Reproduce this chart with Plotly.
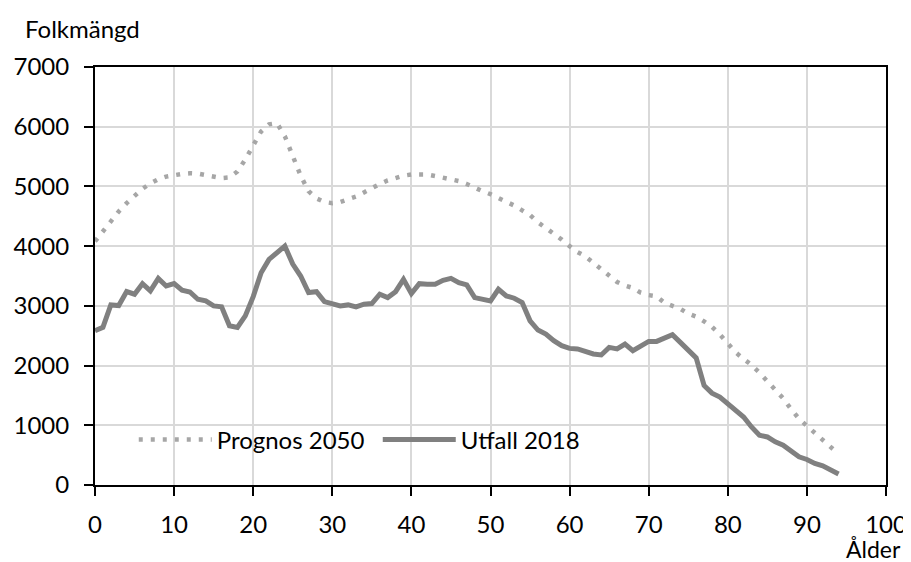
import plotly.graph_objects as go

ages = list(range(0, 95))

prognos_2050 = [
    4080, 4250, 4420, 4580, 4720, 4850, 4960, 5050, 5120, 5165,
    5190, 5210, 5220, 5215, 5190, 5160, 5140, 5150, 5250, 5450,
    5680, 5920, 6040, 6060, 5840, 5500, 5180, 4920, 4800, 4740,
    4720, 4740, 4780, 4830, 4900, 4980, 5040, 5100, 5150, 5180,
    5200, 5205, 5200, 5175, 5150, 5125, 5090, 5040, 4970, 4920,
    4870, 4810, 4750, 4680, 4600, 4520, 4400, 4310, 4210, 4110,
    4000, 3900, 3830, 3720, 3600, 3500, 3400, 3340, 3300, 3220,
    3180, 3160, 3050, 3000, 2950, 2870, 2820, 2740, 2650, 2520,
    2380, 2220, 2110, 2010, 1880, 1740, 1610, 1450, 1270, 1110,
    990, 870, 760, 640, 520,
]

utfall_2018 = [
    2583, 2640, 3016, 3005, 3240, 3195, 3372, 3250, 3460, 3333,
    3372, 3261, 3233, 3111, 3083, 3000, 2983, 2666, 2638, 2833,
    3155, 3555, 3778, 3888, 4000, 3700, 3500, 3222, 3238, 3072,
    3038, 3000, 3016, 2983, 3028, 3038, 3195, 3138, 3238, 3444,
    3205, 3372, 3361, 3361, 3428, 3461, 3388, 3350, 3138, 3111,
    3083, 3278, 3166, 3128, 3055, 2750, 2595, 2528, 2416, 2333,
    2288, 2278, 2238, 2195, 2178, 2305, 2278, 2361, 2250, 2333,
    2405, 2405, 2472, 2516, 2388, 2261, 2128, 1666, 1538, 1472,
    1361, 1250, 1138, 972, 833, 805, 722, 666, 566, 472,
    428, 361, 322, 250, 183,
]

font = 'Lato, Carlito, Calibri, sans-serif'
fsize = 24

fig = go.Figure()
fig.add_trace(go.Scatter(
    x=ages, y=prognos_2050, mode='lines', name='Prognos 2050',
    line=dict(color='#a6a6a6', width=4.5, dash='4px,8px'),
))
fig.add_trace(go.Scatter(
    x=ages, y=utfall_2018, mode='lines', name='Utfall 2018',
    line=dict(color='#808080', width=5),
))

axis_common = dict(
    showline=True, linecolor='black', linewidth=2, mirror=True,
    showgrid=True, gridcolor='#d9d9d9', gridwidth=1.5,
    ticks='outside', ticklen=9, tickcolor='black', tickwidth=2,
    zeroline=False, automargin=False,
    tickfont=dict(size=fsize, color='black', family=font),
)

# page body has an 8px offset, so the figure is a bit smaller than the window
fig.update_layout(
    width=903, height=554,
    margin=dict(l=87, r=25, t=59, b=77),
    paper_bgcolor='white', plot_bgcolor='white',
    font=dict(family=font, size=fsize, color='black'),
    xaxis=dict(range=[0, 100], dtick=10, ticklabelstandoff=8, **axis_common),
    yaxis=dict(range=[0, 7000], dtick=1000, ticklabelstandoff=10, **axis_common),
    showlegend=True,
    legend=dict(orientation='h', x=0.049, y=0.108, xanchor='left', yanchor='middle',
                bgcolor='rgba(0,0,0,0)', font=dict(size=fsize, family=font),
                itemwidth=73, entrywidth=156, entrywidthmode='pixels'),
    annotations=[
        dict(text='Folkmängd', xref='paper', yref='paper', x=-0.091, y=1.093,
             xanchor='left', yanchor='middle', showarrow=False,
             font=dict(size=fsize, family=font)),
        dict(text='Ålder', xref='paper', yref='paper', x=1.0215, y=-0.154,
             xanchor='right', yanchor='middle', showarrow=False,
             font=dict(size=23, family=font)),
    ],
)

fig.write_html("out.html")
